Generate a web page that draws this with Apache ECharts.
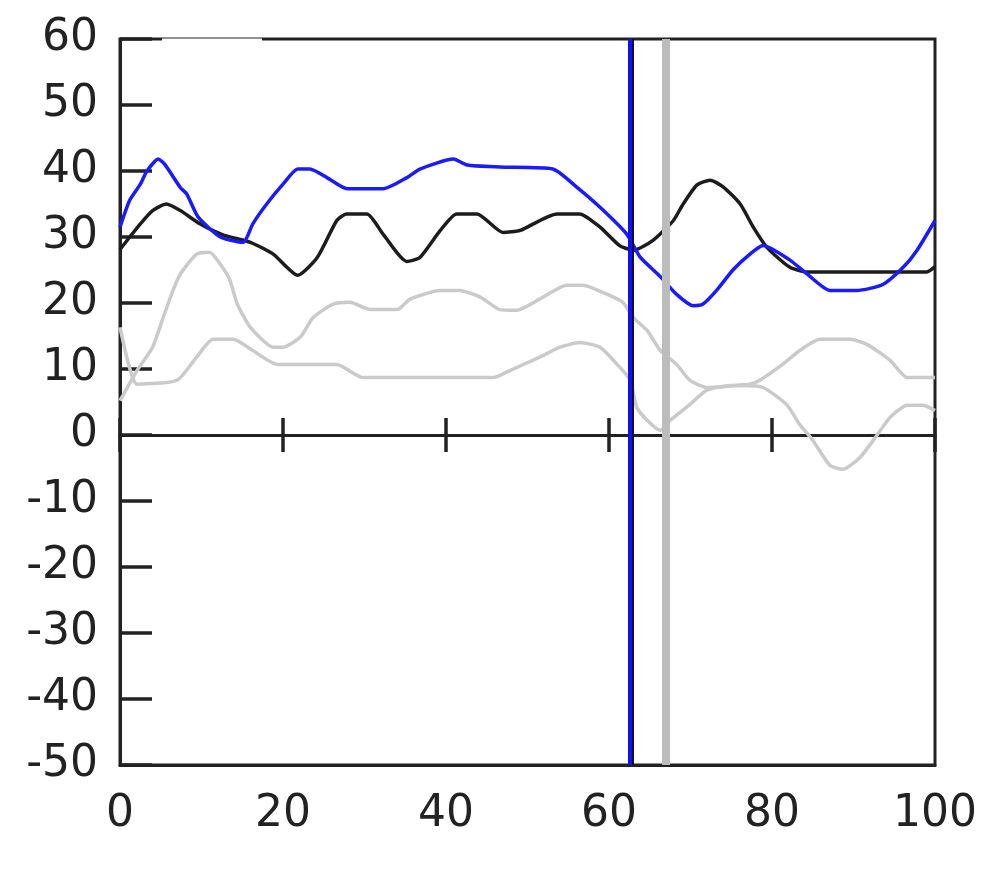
<!DOCTYPE html>
<html><head><meta charset="utf-8">
<script src="https://cdn.jsdelivr.net/npm/echarts@6/dist/echarts.min.js"></script>
<style>html,body{margin:0;padding:0;background:#fff}#c{width:1000px;height:888px}</style>
</head><body><div id="c"></div>
<script>
const xTicks = [0, 20, 40, 60, 80, 100];
const yTicks = [-50, -40, -30, -20, -10, 0, 10, 20, 30, 40, 50, 60];
const blueLine = [[0,31.5],[1.2,35.6],[2.5,38],[3.3,40],[4.7,41.8],[5.5,41],[7.4,37.5],[8.2,36.5],[9.6,33],[12.3,30],[15.1,29.2],[16.3,32],[18,35],[20,38],[21.8,40.3],[23.3,40.3],[25.4,39],[27.9,37.3],[32.3,37.3],[35.2,39],[36.8,40.3],[40.9,41.8],[42.6,40.9],[46.6,40.6],[53.1,40.3],[56,37.6],[58.9,34.5],[62.2,30.4],[63.8,27],[66.3,24],[68.3,21.3],[70.3,19.6],[71.5,19.8],[73.2,21.9],[75.2,25],[77.3,27.4],[78.9,28.7],[82.2,26.5],[84.3,24.4],[87.1,21.9],[90.4,21.9],[93.6,22.8],[96.1,25.4],[97.8,28],[100,32.5]];
const blackLine = [[0,28.1],[1.2,30],[2.5,32],[4,34],[5.7,35],[7.4,34],[9.8,32],[12.7,30.3],[16,29.2],[18.8,27.4],[21.8,24.2],[24.2,26.9],[26.6,32.5],[27.8,33.5],[30.3,33.5],[32.3,30.4],[35.2,26.3],[36.8,26.9],[39.3,31],[41.3,33.5],[43.8,33.5],[47,30.7],[49.1,31],[53.6,33.5],[56.4,33.5],[58.9,31.5],[61.3,28.7],[63,28],[65.4,29.5],[67.9,32.5],[69.1,35],[70.8,37.9],[72.4,38.6],[74,37.6],[76.1,35],[77.7,31.5],[79.4,28.4],[82.2,25.4],[84.3,24.7],[99,24.7],[100,25.5]];
const grayUpper = [[0,5.2],[2.1,9.8],[4,13.3],[5.3,17.8],[6.5,21.9],[7.4,24.4],[9.4,27.4],[11,27.7],[12.3,25.9],[13.5,23.4],[14.4,19.8],[16,16.3],[18.8,13.3],[20,13.3],[22.1,14.8],[23.7,17.8],[26.1,19.8],[28.2,20.1],[30.7,19],[34,19],[35.6,20.6],[39.3,21.9],[41.7,21.9],[44.2,20.9],[46.6,19],[48.7,18.9],[51.5,20.6],[54.8,22.7],[56.8,22.7],[59.8,21.3],[61.7,20.1],[63,17.8],[64.7,15.8],[66.3,12.8],[68.3,10.7],[69.9,8.3],[72,7.2],[76.4,7.5],[78.9,7.2],[81.8,4.6],[83.4,1.6],[85,-0.8],[87.1,-4.6],[88.7,-5.2],[90.8,-3.4],[92.9,0],[94.5,2.7],[96.6,4.5],[98.5,4.5],[100,3.7]];
const grayLower = [[0,16.3],[1,11],[2.1,7.7],[7,8.3],[9.4,11.8],[11.4,14.5],[13.9,14.5],[16.3,12.8],[19.3,10.7],[26.6,10.7],[29.8,8.7],[45.8,8.7],[47.9,9.8],[51.5,11.8],[54,13.3],[56.4,14],[58.9,13.3],[61,10.7],[62.6,8.3],[63.4,4.2],[64.7,2.2],[66.3,0.7],[67.5,2.2],[69.9,4.6],[72,6.8],[74.8,7.5],[77.3,7.7],[78.5,8.3],[81.3,10.7],[83.4,12.8],[85.9,14.5],[89.6,14.5],[91.7,13.7],[94.5,11.3],[96.6,8.7],[100,8.7]];
const blueMarker = 62.5;
const blueMarkerEdge = 62.88;
const grayMarker = 67.0;

const chart = echarts.init(document.getElementById('c'), null, {renderer: 'canvas'});
const labelFont = {fontFamily: 'DejaVu Sans', fontSize: 44, color: '#222'};
const zeroAxis = (inside) => ({
  type: 'value', min: xTicks[0], max: xTicks[xTicks.length-1], interval: 20, position: 'top',
  axisLine: {show: true, onZero: true, onZeroAxisIndex: 0, lineStyle: {color: '#222', width: 3}},
  axisTick: {show: true, inside: inside, length: 17, lineStyle: {color: '#222', width: 3.5}},
  axisLabel: {show: false}, splitLine: {show: false}
});
chart.setOption({
  animation: false,
  backgroundColor: '#fff',
  grid: {left: 120, right: 65, top: 39, bottom: 123, show: true, borderColor: '#222', borderWidth: 3, backgroundColor: 'transparent'},
  xAxis: [
    {type: 'value', min: xTicks[0], max: xTicks[xTicks.length-1], interval: 20, position: 'bottom',
     axisLine: {show: true, onZero: false, lineStyle: {color: '#222', width: 3}},
     axisTick: {show: false}, splitLine: {show: false},
     axisLabel: Object.assign({margin: 28}, labelFont)},
    zeroAxis(true),
    zeroAxis(false)
  ],
  yAxis: {type: 'value', min: yTicks[0], max: yTicks[yTicks.length-1], interval: 10,
    axisLine: {show: true, onZero: false, lineStyle: {color: '#222', width: 3}},
    axisTick: {show: true, inside: true, length: 32, lineStyle: {color: '#222', width: 3.5}},
    splitLine: {show: false},
    axisLabel: Object.assign({margin: 22}, labelFont)},
  graphic: [{type: 'rect', shape: {x: 162, y: 38.5, width: 100, height: 3}, style: {fill: '#fff'}, z: 100}],
  series: [
    {type: 'line', data: grayUpper, showSymbol: false, smooth: 0.2, lineStyle: {color: '#cacaca', width: 3.5}, z: 2},
    {type: 'line', data: grayLower, showSymbol: false, smooth: 0.2, lineStyle: {color: '#cacaca', width: 3.5}, z: 2},
    {type: 'line', data: blackLine, showSymbol: false, smooth: 0.2, lineStyle: {color: '#1c1c1c', width: 3.5}, z: 3},
    {type: 'line', data: blueLine, showSymbol: false, smooth: 0.2, lineStyle: {color: '#1a1aff', width: 3.5}, z: 4},
    {type: 'line', data: [], z: 10, markLine: {symbol: 'none', silent: true, label: {show: false},
      data: [
        {xAxis: grayMarker, lineStyle: {color: '#bcbcbc', width: 8, type: 'solid'}},
        {xAxis: blueMarkerEdge, lineStyle: {color: '#10102a', width: 2, type: 'solid'}},
        {xAxis: blueMarker, lineStyle: {color: '#1010f0', width: 4, type: 'solid'}}
      ]}}
  ]
});
</script></body></html>
